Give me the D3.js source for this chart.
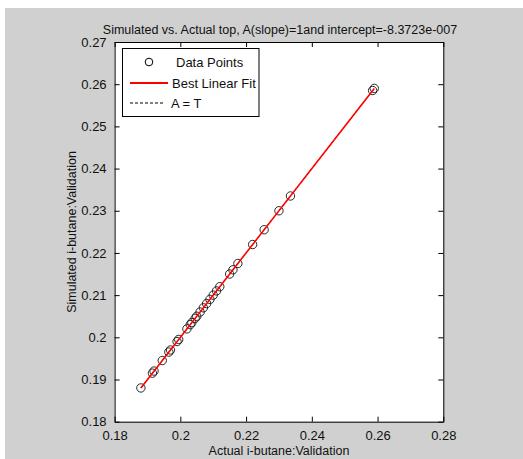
<!DOCTYPE html>
<html><head><meta charset="utf-8">
<script src="https://cdn.jsdelivr.net/npm/d3@7"></script>
<style>body{margin:0;background:#fff}svg{display:block;font-family:Arial,"Liberation Sans",sans-serif}</style>
</head><body><svg id="c" width="523" height="459"></svg>
<script>
const actual = [0.188,0.1915,0.192,0.1945,0.1965,0.197,0.199,0.1995,0.202,0.203,0.2035,0.2045,0.205,0.206,0.207,0.208,0.209,0.210,0.211,0.212,0.215,0.216,0.2175,0.222,0.2255,0.230,0.2335,0.2585,0.259];
const simulated = [0.188,0.1915,0.192,0.1945,0.1965,0.197,0.199,0.1995,0.202,0.203,0.2035,0.2045,0.205,0.206,0.207,0.208,0.209,0.210,0.211,0.212,0.215,0.216,0.2175,0.222,0.2255,0.230,0.2335,0.2585,0.259];
const xTicks = [0.18,0.2,0.22,0.24,0.26,0.28];
const yTicks = [0.18,0.19,0.2,0.21,0.22,0.23,0.24,0.25,0.26,0.27];
const slope = 1, intercept = -8.3723e-7;
const titleText = "Simulated vs. Actual top, A(slope)=1and intercept=-8.3723e-007";
const xLabel = "Actual i-butane:Validation";
const yLabel = "Simulated i-butane:Validation";
const legendItems = ["Data Points","Best Linear Fit","A = T"];

const svg = d3.select("#c");
svg.append("rect").attr("x",5).attr("y",8).attr("width",518).attr("height",451).attr("fill","#d0d0d0");
const L=114.6,R=443.3,T=42,B=421.7;
const x = d3.scaleLinear().domain([0.18,0.28]).range([L,R]);
const y = d3.scaleLinear().domain([0.18,0.27]).range([B,T]);
svg.append("rect").attr("x",L).attr("y",T).attr("width",R-L).attr("height",B-T).attr("fill","#fff");

const g = svg.append("g");
const fmt = d => d3.format("")(+d.toFixed(2));
// bottom axis
const xa = svg.append("g").attr("transform",`translate(0,${B})`).call(d3.axisBottom(x).tickValues(xTicks).tickSizeInner(-5).tickSizeOuter(0).tickPadding(9).tickFormat(d=>+d.toFixed(2)));
const xt = svg.append("g").attr("transform",`translate(0,${T})`).call(d3.axisTop(x).tickValues(xTicks).tickSizeInner(-5).tickSizeOuter(0).tickFormat(""));
const ya = svg.append("g").attr("transform",`translate(${L},0)`).call(d3.axisLeft(y).tickValues(yTicks).tickSizeInner(-5).tickSizeOuter(0).tickPadding(8).tickFormat(d=>+d.toFixed(2)));
const yr = svg.append("g").attr("transform",`translate(${R},0)`).call(d3.axisRight(y).tickValues(yTicks).tickSizeInner(-5).tickSizeOuter(0).tickFormat(""));
[xa,xt,ya,yr].forEach(a=>{a.selectAll("path,line").attr("stroke","#000").attr("stroke-width",1);a.selectAll("text").attr("font-size",13).attr("fill","#111").attr("font-family","Arial,'Liberation Sans',sans-serif");});

// A = T dashed
const ext=[d3.min(actual),d3.max(actual)];
g.append("line").attr("x1",x(ext[0])).attr("y1",y(ext[0])).attr("x2",x(ext[1])).attr("y2",y(ext[1])).attr("stroke","#000").attr("stroke-dasharray","3,2");
// points
g.selectAll("circle").data(actual).join("circle").attr("cx",d=>x(d)).attr("cy",(d,i)=>y(simulated[i])).attr("r",4.2).attr("fill","none").attr("stroke","#111").attr("stroke-width",0.9);
// fit
g.append("line").attr("x1",x(ext[0])).attr("y1",y(slope*ext[0]+intercept)).attr("x2",x(ext[1])).attr("y2",y(slope*ext[1]+intercept)).attr("stroke","#ff0000").attr("stroke-width",1.6);

// title and labels
svg.append("text").attr("x",280).attr("y",34).attr("text-anchor","middle").attr("font-size",12.5).attr("fill","#111").text(titleText);
svg.append("text").attr("x",279).attr("y",455).attr("text-anchor","middle").attr("font-size",12.5).attr("fill","#111").text(xLabel);
svg.append("text").attr("transform","translate(76,232) rotate(-90)").attr("text-anchor","middle").attr("font-size",12.5).attr("fill","#111").text(yLabel);

// legend
const lg = svg.append("g");
lg.append("rect").attr("x",122.5).attr("y",48.5).attr("width",136.5).attr("height",68).attr("fill","#fff").attr("stroke","#000");
const rows=[62,83,103];
lg.append("circle").attr("cx",149).attr("cy",rows[0]).attr("r",3.8).attr("fill","none").attr("stroke","#000");
lg.append("line").attr("x1",130).attr("x2",168).attr("y1",rows[1]).attr("y2",rows[1]).attr("stroke","#ff0000").attr("stroke-width",2);
lg.append("line").attr("x1",130).attr("x2",163).attr("y1",rows[2]).attr("y2",rows[2]).attr("stroke","#000").attr("stroke-dasharray","3,2");
const tx=[176,172,171];
legendItems.forEach((t,i)=>lg.append("text").attr("x",tx[i]).attr("y",rows[i]+5).attr("font-size",13).attr("fill","#111").text(t));
</script></body></html>
